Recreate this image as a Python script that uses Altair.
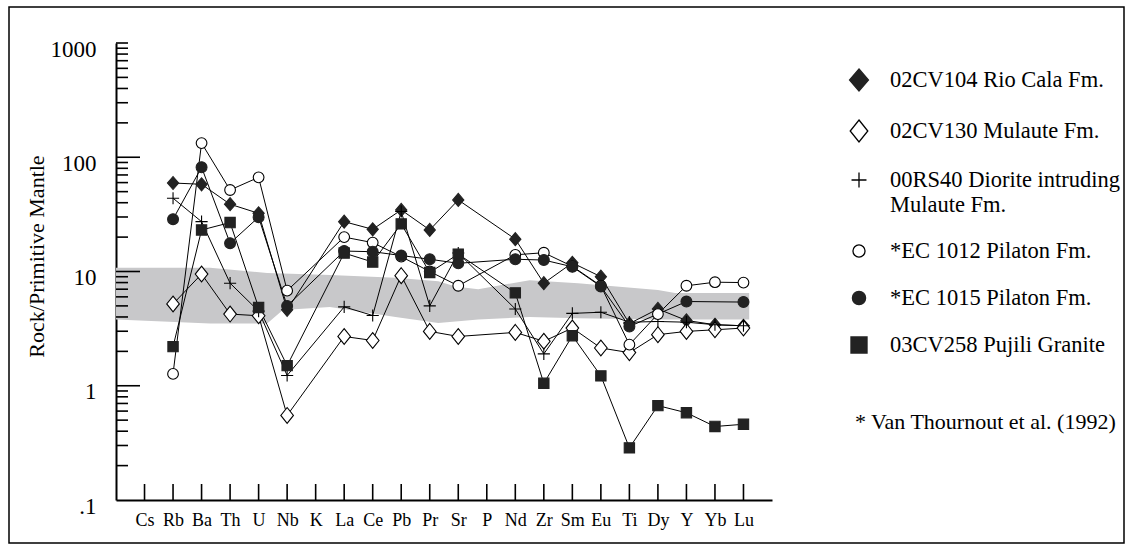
import altair as alt
import pandas as pd

# Elements on the spider diagram, in plotting order
elements = ["Cs", "Rb", "Ba", "Th", "U", "Nb", "K", "La", "Ce", "Pb", "Pr",
            "Sr", "P", "Nd", "Zr", "Sm", "Eu", "Ti", "Dy", "Y", "Yb", "Lu"]

N = None  # element not analysed

# Rock / primitive mantle ratios for each sample
s_02cv104 = [N, 59.5, 58, 38.8, 32.3, 4.62, N, 27.3, 23.4, 34.6, 23.1, 42.3, N,
             19.2, 7.9, 11.9, 9.0, 3.5, 4.7, 3.73, 3.42, 3.35]
s_02cv130 = [N, 5.2, 9.5, 4.24, 4.1, 0.55, N, 2.7, 2.49, 9.2, 2.99, 2.7, N,
             2.93, 2.45, 3.2, 2.14, 1.95, 2.8, 2.99, 3.09, 3.2]
s_00rs40 = [N, 43.8, 27.3, 7.9, 4.5, 1.23, N, 4.9, 4.12, 33.5, 5.0, 14.5, N,
            4.7, 1.9, 4.3, 4.4, 3.6, 3.65, 3.6, 3.42, 3.35]
s_ec1012 = [N, 1.27, 133, 51.7, 66.7, 6.8, N, 20.0, 17.9, 13.5, 10.0, 7.5, N,
            14.0, 14.6, 11.1, 7.5, 2.29, 4.24, 7.5, 8.06, 8.0]
s_ec1015 = [N, 28.7, 81.7, 17.7, 29.9, 5.0, N, 15.1, 14.9, 13.8, 12.8, 11.8, N,
            12.8, 12.6, 11.0, 7.4, 3.3, N, 5.46, N, 5.4]
s_03cv258 = [N, 2.2, 23.1, 26.8, 4.84, 1.5, N, 14.5, 12.1, 26.1, 9.8, 14.2, N,
             6.5, 1.05, 2.74, 1.22, 0.286, 0.67, 0.58, 0.44, 0.46]

series_names = [
    "02CV104 Rio Cala Fm.",
    "02CV130 Mulaute Fm.",
    "00RS40 Diorite intruding Mulaute Fm.",
    "*EC 1012 Pilaton Fm.",
    "*EC 1015 Pilaton  Fm.",
    "03CV258 Pujili Granite",
]
series_values = [s_02cv104, s_02cv130, s_00rs40, s_ec1012, s_ec1015, s_03cv258]

# Grey reference field (position along the element axis, lower and upper bound)
band_pos = [-1, 2.3, 4.3, 4.85, 6.5, 8.8, 10.3, 10.9, 11.7, 13.5, 15.2, 18.0, 18.6, 21.2]
band_hi = [10.8, 10.8, 9.7, 9.6, 9.3, 8.8, 8.2, 7.4, 7.0, 8.4, 7.9, 6.9, 6.5, 6.5]
band_lo = [3.8, 3.5, 3.5, 4.6, 4.9, 4.0, 3.55, 3.65, 3.8, 4.0, 3.9, 3.8, 3.8, 3.8]

note_text = "* Van Thournout et al. (1992)"

# ---- tables -------------------------------------------------------------
rows = []
for name, vals in zip(series_names, series_values):
    for i, v in enumerate(vals):
        if v is not None:
            rows.append({"series": name, "idx": i, "value": v})
df = pd.DataFrame(rows)

band_df = pd.DataFrame({"idx": band_pos, "value": band_lo, "hi": band_hi})

y_major = [1, 10, 100]
y_minor = [m * 10 ** e for e in range(-1, 3) for m in range(2, 10)] + [1000]

# ---- styling ------------------------------------------------------------
FONT = "Liberation Serif"
W, H = 656, 457
PAD_L, PAD_T = 116, 43
DARK = "#222222"

marker_paths = [
    "M0,-1L0.86,0L0,1L-0.86,0Z",                        # filled diamond
    "M0,-1L0.8,0L0,1L-0.8,0Z",                          # open diamond
    "M-0.68,0H0.68M0,-0.68V0.68",                       # plus
    "M0.55,0A0.55,0.55 0 1,1 -0.55,0A0.55,0.55 0 1,1 0.55,0Z",  # open circle
    "M0.6,0A0.6,0.6 0 1,1 -0.6,0A0.6,0.6 0 1,1 0.6,0Z",         # filled circle
    "M-0.73,-0.73H0.73V0.73H-0.73Z",                   # filled square
]
marker_fills = [DARK, "white", "transparent", "white", DARK, DARK]
marker_strokes = [DARK, "black", "black", "black", DARK, DARK]
marker_sizes = [170, 250, 320, 380, 330, 200]

x_scale = alt.Scale(domain=[-1, 22], nice=False, zero=False)
y_scale = alt.Scale(type="log", domain=[0.1, 1000], nice=False)

label_array = "[" + ",".join("'%s'" % e for e in elements) + "]"

x_axis = alt.Axis(values=list(range(len(elements))),
                  labelExpr=label_array + "[datum.value]",
                  ticks=False, grid=False, title=None,
                  domainColor="black", domainWidth=2,
                  labelFont=FONT, labelFontSize=18, labelColor="black",
                  labelPadding=11, labelBaseline="top")
y_axis = alt.Axis(values=[0.1, 1, 10, 100, 1000],
                  labelExpr="datum.value < 0.5 ? '.1' : format(datum.value, 'd')",
                  ticks=False, grid=False,
                  title="Rock/Primitive Mantle",
                  titleFont=FONT, titleFontSize=22, titleFontWeight="normal",
                  titleColor="black", titleX=-80, titleY=213,
                  titleAlign="center", titleBaseline="middle",
                  domainColor="black", domainWidth=2,
                  labelFont=FONT, labelFontSize=23, labelColor="black",
                  labelPadding=20, labelOffset=6)


def xq(field):
    return alt.X(field, scale=x_scale, axis=x_axis)


def yq(field):
    return alt.Y(field, scale=y_scale, axis=y_axis)


frame = alt.Chart(pd.DataFrame({"k": [0]})).mark_rect(
    filled=False, stroke="black", strokeWidth=1.5
).encode(
    x=alt.value(9 - PAD_L), x2=alt.value(1124 - PAD_L),
    y=alt.value(7 - PAD_T), y2=alt.value(543 - PAD_T),
)

band = alt.Chart(band_df).mark_area(color="#c8c8ca", opacity=1).encode(
    x=xq("idx:Q"), y=yq("value:Q"), y2="hi:Q",
)

ytick_major = alt.Chart(pd.DataFrame({"value": y_major})).mark_rule(
    color="black", strokeWidth=1.6
).encode(y=yq("value:Q"), x=alt.value(0), x2=alt.value(24))

ytick_minor = alt.Chart(pd.DataFrame({"value": y_minor})).mark_rule(
    color="black", strokeWidth=1.6
).encode(y=yq("value:Q"), x=alt.value(0), x2=alt.value(12))

xtick = alt.Chart(pd.DataFrame({"idx": list(range(len(elements)))})).mark_rule(
    color="black", strokeWidth=1.6
).encode(x=xq("idx:Q"), y=alt.value(H - 16), y2=alt.value(H))

lines = alt.Chart(df).mark_line(color="black", strokeWidth=1).encode(
    x=xq("idx:Q"), y=yq("value:Q"), detail="series:N", order="idx:Q"
)

legend = alt.Legend(
    title=None, orient="none", legendX=731, legendY=25, padding=0,
    symbolSize=484, symbolStrokeWidth=1.3,
    labelFont=FONT, labelFontSize=22.5, labelColor="black", labelOffset=19,
    labelLimit=500, rowPadding=23,
    labelExpr="datum.label == '00RS40 Diorite intruding Mulaute Fm.' ? "
              "['00RS40 Diorite intruding', 'Mulaute Fm.'] : datum.label",
)

# shape, fill and stroke share one domain, so they form a single legend;
# the size scale lists the same names in reverse so it stays a separate
# (hidden) guide
points = alt.Chart(df).mark_point(
    filled=True, opacity=1, strokeWidth=1.1
).encode(
    x=xq("idx:Q"), y=yq("value:Q"),
    shape=alt.Shape("series:N", scale=alt.Scale(domain=series_names, range=marker_paths),
                    legend=legend),
    fill=alt.Fill("series:N", scale=alt.Scale(domain=series_names, range=marker_fills),
                  legend=legend),
    stroke=alt.Stroke("series:N", scale=alt.Scale(domain=series_names, range=marker_strokes),
                      legend=legend),
    size=alt.Size("series:N",
                  scale=alt.Scale(type="ordinal", domain=series_names[::-1],
                                  range=marker_sizes[::-1]),
                  legend=None),
)

note = alt.Chart(pd.DataFrame({"note": [note_text]})).mark_text(
    font=FONT, fontSize=22, color="black", align="left", baseline="middle"
).encode(x=alt.value(855 - PAD_L), y=alt.value(422 - PAD_T), text="note:N")

chart = alt.layer(frame, band, ytick_major, ytick_minor, xtick, lines, points, note).properties(
    width=W, height=H,
    autosize=alt.AutoSizeParams(type="none"),
    padding={"left": PAD_L, "top": PAD_T, "right": 1134 - PAD_L - W, "bottom": 554 - PAD_T - H},
    background="white",
).configure(font=FONT).configure_view(strokeWidth=0)

chart.save("out.html", embed_options={"renderer": "svg", "actions": False})
